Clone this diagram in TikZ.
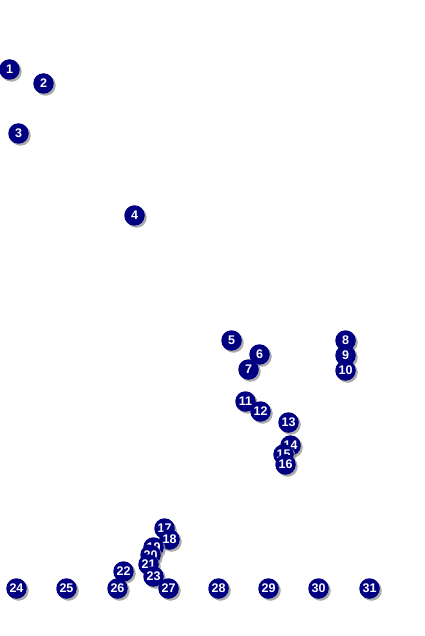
\documentclass[tikz,border=0pt]{standalone}
\usepackage{fontspec}
\setmainfont{Liberation Sans}
\definecolor{navyb}{RGB}{0,0,128}
\definecolor{shad}{RGB}{150,150,150}
\usetikzlibrary{shadows}
\tikzset{
  ball/.style={circle, fill=navyb, minimum size=20.5pt, inner sep=0pt, text=white,
    font=\fontsize{12.5}{12.5}\selectfont\bfseries,
    drop shadow={shadow xshift=2pt, shadow yshift=-2pt, fill=shad, opacity=0.8}}
}
\begin{document}
\begin{tikzpicture}[x=1pt,y=-1pt]
\useasboundingbox (0,0) rectangle (424,636);
\foreach \n/\x/\y in {1/9.5/69.5, 2/43.5/83.5, 3/18.5/133.5, 4/134.5/215.5, 5/231.5/340.5, 6/259.5/354.5, 7/248.5/369.5,
  8/345.5/340.5, 9/345.5/355.5, 10/345.5/370.5, 11/245.5/401.5, 12/260.5/411.5, 13/288.5/422.5, 14/290.5/445.5,
  15/283.5/454.5, 16/285.5/464.5, 17/164.5/528.5, 18/169.5/539.5, 19/153.5/547.5, 20/150.5/555, 21/148.5/564.5,
  22/123.5/571.5, 23/153.5/576.5, 24/16.5/588.5, 25/66.5/588.5, 26/117.5/588.5, 27/168.5/588.5, 28/218.5/588.5,
  29/268.5/588.5, 30/318.5/588.5, 31/369.5/588.5}
  \node[ball] (n\n) at (\x,\y) {\n};
\end{tikzpicture}
\end{document}
